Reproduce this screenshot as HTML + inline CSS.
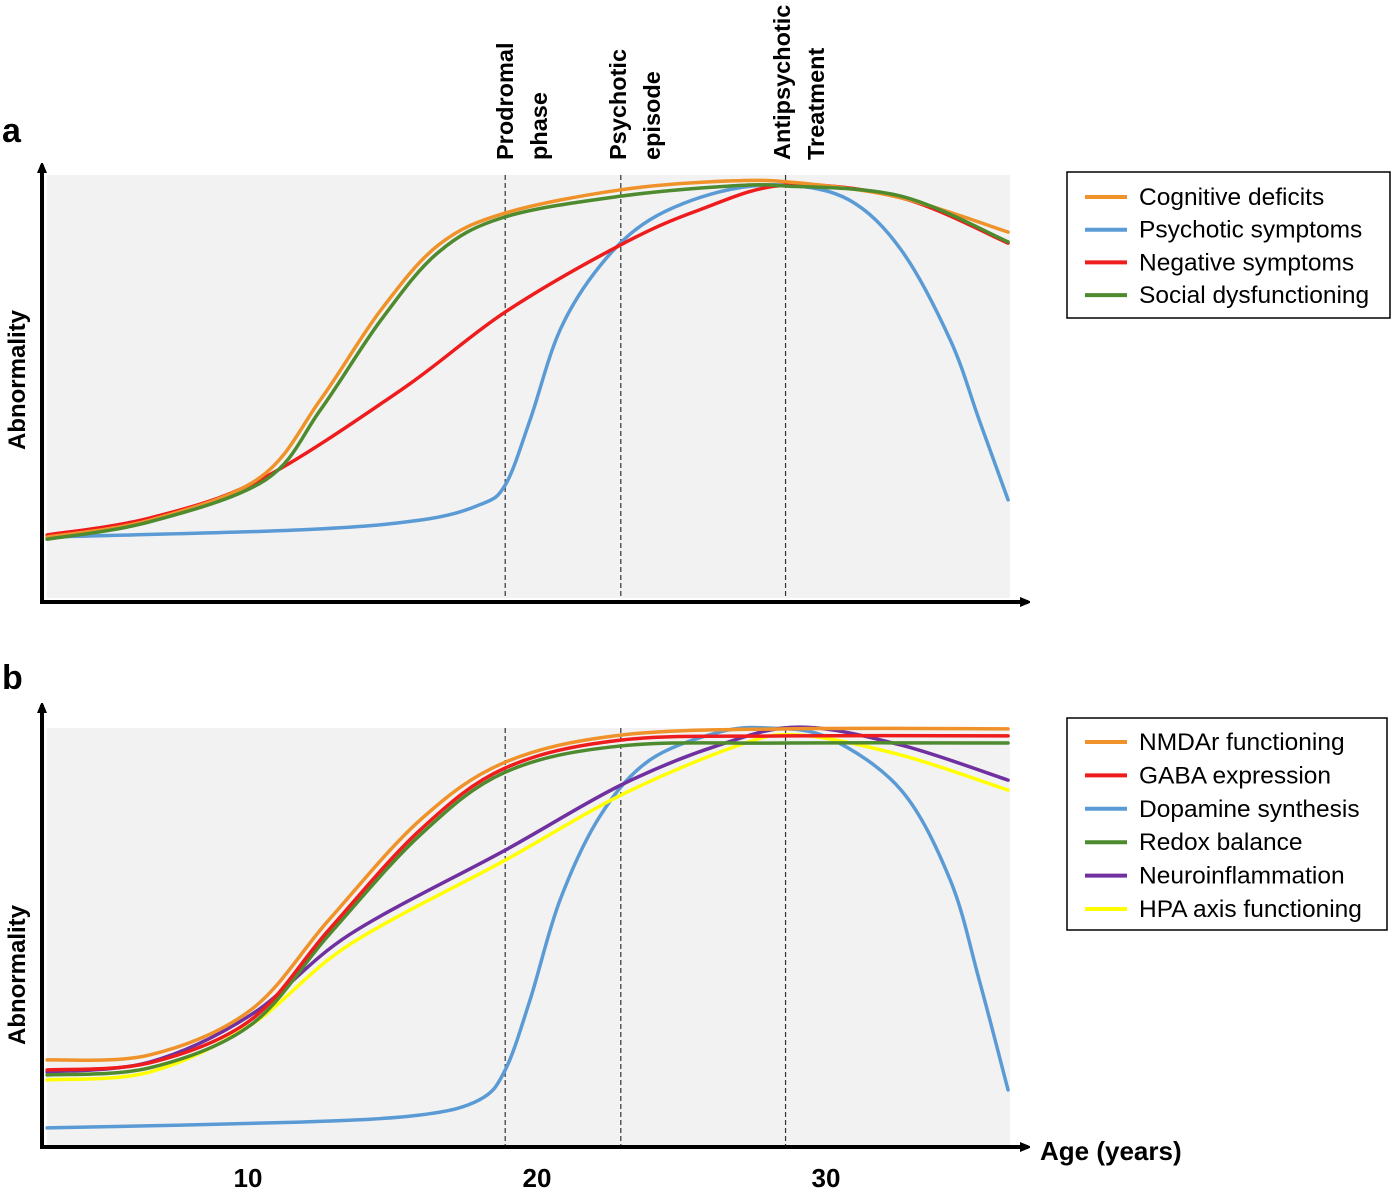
<!DOCTYPE html>
<html><head><meta charset="utf-8"><style>
body{margin:0;background:#fff;}
svg{display:block;font-family:"Liberation Sans",sans-serif;}
</style></head><body>
<svg id="chart" width="1395" height="1190" viewBox="0 0 1395 1190">
<defs><marker id="arr" markerWidth="10" markerHeight="10" refX="8" refY="5" orient="auto" markerUnits="userSpaceOnUse"><path d="M0,0 L12,5 L0,10 z" fill="#000"/></marker></defs>
<rect x="47" y="175" width="963" height="423" fill="#f2f2f2"/>
<rect x="47" y="728" width="963" height="417" fill="#f2f2f2"/>
<g id="guides"></g>
<g id="curves"></g>
<line x1="42" y1="603" x2="42" y2="165" stroke="#000" stroke-width="4" marker-end="url(#arr)"/>
<line x1="40" y1="602" x2="1028" y2="602" stroke="#000" stroke-width="4" marker-end="url(#arr)"/>
<line x1="42" y1="1148" x2="42" y2="705" stroke="#000" stroke-width="4" marker-end="url(#arr)"/>
<line x1="40" y1="1147" x2="1028" y2="1147" stroke="#000" stroke-width="4" marker-end="url(#arr)"/>
<text x="2" y="142" font-size="34" font-weight="bold">a</text>
<text x="2" y="689" font-size="34" font-weight="bold">b</text>
<text transform="translate(25,380) rotate(-90)" text-anchor="middle" font-size="24" font-weight="bold">Abnormality</text>
<text transform="translate(25,975) rotate(-90)" text-anchor="middle" font-size="24" font-weight="bold">Abnormality</text>
<text x="1040" y="1160" font-size="26" font-weight="bold">Age (years)</text>
<g font-size="23.5" font-weight="bold">
<text transform="translate(513,160) rotate(-90)">Prodromal</text>
<text transform="translate(547,160) rotate(-90)">phase</text>
<text transform="translate(626,160) rotate(-90)">Psychotic</text>
<text transform="translate(660,160) rotate(-90)">episode</text>
<text transform="translate(790,160) rotate(-90)">Antipsychotic</text>
<text transform="translate(824,160) rotate(-90)">Treatment</text>
</g>
<g id="ticks"></g>
<rect x="1067" y="172" width="323" height="146" fill="#fff" stroke="#000" stroke-width="1.5"/>
<rect x="1067" y="718" width="320" height="212" fill="#fff" stroke="#000" stroke-width="1.5"/>
<g id="legends"></g>
</svg>
<script>
const tickAges=[10,20,30];
const phaseAges=[18.9,22.9,28.6];
const namesA=["Cognitive deficits","Psychotic symptoms","Negative symptoms","Social dysfunctioning"];
const colorsA=["#f0922a","#5b9bd5","#ee1c1c","#4e8a2e"];
const cogAge=[3.05,6.6,10.4,12.5,14.6,16.6,18.9,22.9,26.7,29.1,32.6,36.3];
const cogVal=[14.4,18.4,28.4,46.8,68.1,83.5,91.0,96.5,98.6,98.1,94.6,86.5];
const socAge=[3.05,6.6,10.6,12.5,14.6,16.6,18.9,22.9,26.7,28.6,32.6,36.3];
const socVal=[13.9,18,27.9,44.4,65.7,81.8,90.1,95,97.4,97.4,95,84.2];
const negAge=[3.05,6.6,10.4,15.3,18.9,22.9,25.6,28.6,32.6,36.3];
const negVal=[14.9,18.9,27.9,49.2,67.6,83.5,91.7,97.6,94.6,83.9];
const psyAge=[3.05,11.8,15.95,18.0,18.9,19.76,20.8,22.2,23.9,26.3,28.6,30.8,32.6,34.3,35.3,36.3];
const psyVal=[14.4,16.1,18.4,22,26.7,42.1,63.4,78.7,89.4,96,97.6,94.1,82.3,61,42.1,23.2];
const namesB=["NMDAr functioning","GABA expression","Dopamine synthesis","Redox balance","Neuroinflammation","HPA axis functioning"];
const colorsB=["#f0922a","#ee1c1c","#5b9bd5","#4e8a2e","#7030a0","#ffff00"];
const sAge=[3.05,6.6,10.1,12.8,15.95,18.9,22.9,28.6,36.3];
const nmdaVal=[20.4,21.6,32.4,54,77.9,91.8,98.3,99.8,99.8];
const gabaVal=[18,19.7,30,51.6,75.5,90.4,97.1,98.1,98.1];
const redoxVal=[16.8,18.5,28.8,50.4,74.3,89.4,95.7,96.4,96.4];
const infAge=[3.05,6.6,10.1,13.5,18.9,22.9,26.3,29.1,32.6,36.3];
const infVal=[17.5,19.9,31.2,50.4,70.7,86.3,95.9,100.2,95.9,87.5];
const hpaAge=[3.05,6.6,10.1,13.5,18.9,22.9,27.0,29.1,32.6,36.3];
const hpaVal=[15.6,17.5,28.8,48,68.3,83.9,95.9,98.3,93.5,85.1];
const dopAge=[3.05,11.8,15.95,18.0,18.9,19.76,20.8,22.2,23.9,26.3,28.0,30.1,32.6,34.3,35.3,36.3];
const dopVal=[4.1,5.5,7.2,10.8,18,34.8,58.8,79.1,92.3,99,100,97.6,85.1,63.5,39.6,13.2];

const NS="http://www.w3.org/2000/svg";
const xS=a=>-41+a*28.9;
const yA=v=>598-v*4.23;
const yB=v=>1145-v*4.17;
function mk(t,at,parent){const e=document.createElementNS(NS,t);for(const k in at)e.setAttribute(k,at[k]);document.getElementById(parent).appendChild(e);return e;}
function pathD(ages,vals,ys){const p=ages.map((a,i)=>[xS(a),ys(vals[i])]);let d="M"+p[0][0]+","+p[0][1];
for(let i=0;i<p.length-1;i++){const p0=p[Math.max(0,i-1)],p1=p[i],p2=p[i+1],p3=p[Math.min(p.length-1,i+2)];
const c1=[p1[0]+(p2[0]-p0[0])/6,p1[1]+(p2[1]-p0[1])/6],c2=[p2[0]-(p3[0]-p1[0])/6,p2[1]-(p3[1]-p1[1])/6];
d+=` C${c1[0]},${c1[1]} ${c2[0]},${c2[1]} ${p2[0]},${p2[1]}`;}return d;}
function curve(ages,vals,ys,color,name){const e=mk("path",{d:pathD(ages,vals,ys),fill:"none",stroke:color,"stroke-width":3.5,"stroke-linejoin":"round","stroke-linecap":"round"},"curves");

}
phaseAges.forEach((a)=>{[[175,598],[728,1145]].forEach((r)=>{const e=mk("line",{x1:xS(a),x2:xS(a),y1:r[0],y2:r[1],stroke:"#333","stroke-width":1.2,"stroke-dasharray":"5,3"},"guides");

});});
tickAges.forEach(a=>{const t=mk("text",{x:xS(a),y:1187,"text-anchor":"middle","font-size":26,"font-weight":"bold"},"ticks");t.textContent=a;

});
curve(psyAge,psyVal,yA,colorsA[1],"psychotic-symptoms-line");
curve(negAge,negVal,yA,colorsA[2],"negative-symptoms-line");
curve(cogAge,cogVal,yA,colorsA[0],"cognitive-deficits-line");
curve(socAge,socVal,yA,colorsA[3],"social-dysfunctioning-line");
curve(dopAge,dopVal,yB,colorsB[2],"dopamine-synthesis-line");
curve(hpaAge,hpaVal,yB,colorsB[5],"hpa-axis-line");
curve(infAge,infVal,yB,colorsB[4],"neuroinflammation-line");
curve(sAge,redoxVal,yB,colorsB[3],"redox-balance-line");
curve(sAge,gabaVal,yB,colorsB[1],"gaba-expression-line");
curve(sAge,nmdaVal,yB,colorsB[0],"nmdar-functioning-line");
function legend(names,colors,y0,dy){names.forEach((n,i)=>{const y=y0+i*dy;
const l=mk("line",{x1:1085,x2:1127,y1:y,y2:y,stroke:colors[i],"stroke-width":4},"legends");


const t=mk("text",{x:1139,y:y+8,"font-size":24.5},"legends");t.textContent=n;

});}
legend(namesA,colorsA,197,32.7);
legend(namesB,colorsB,742,33.4);
</script>
</body></html>
